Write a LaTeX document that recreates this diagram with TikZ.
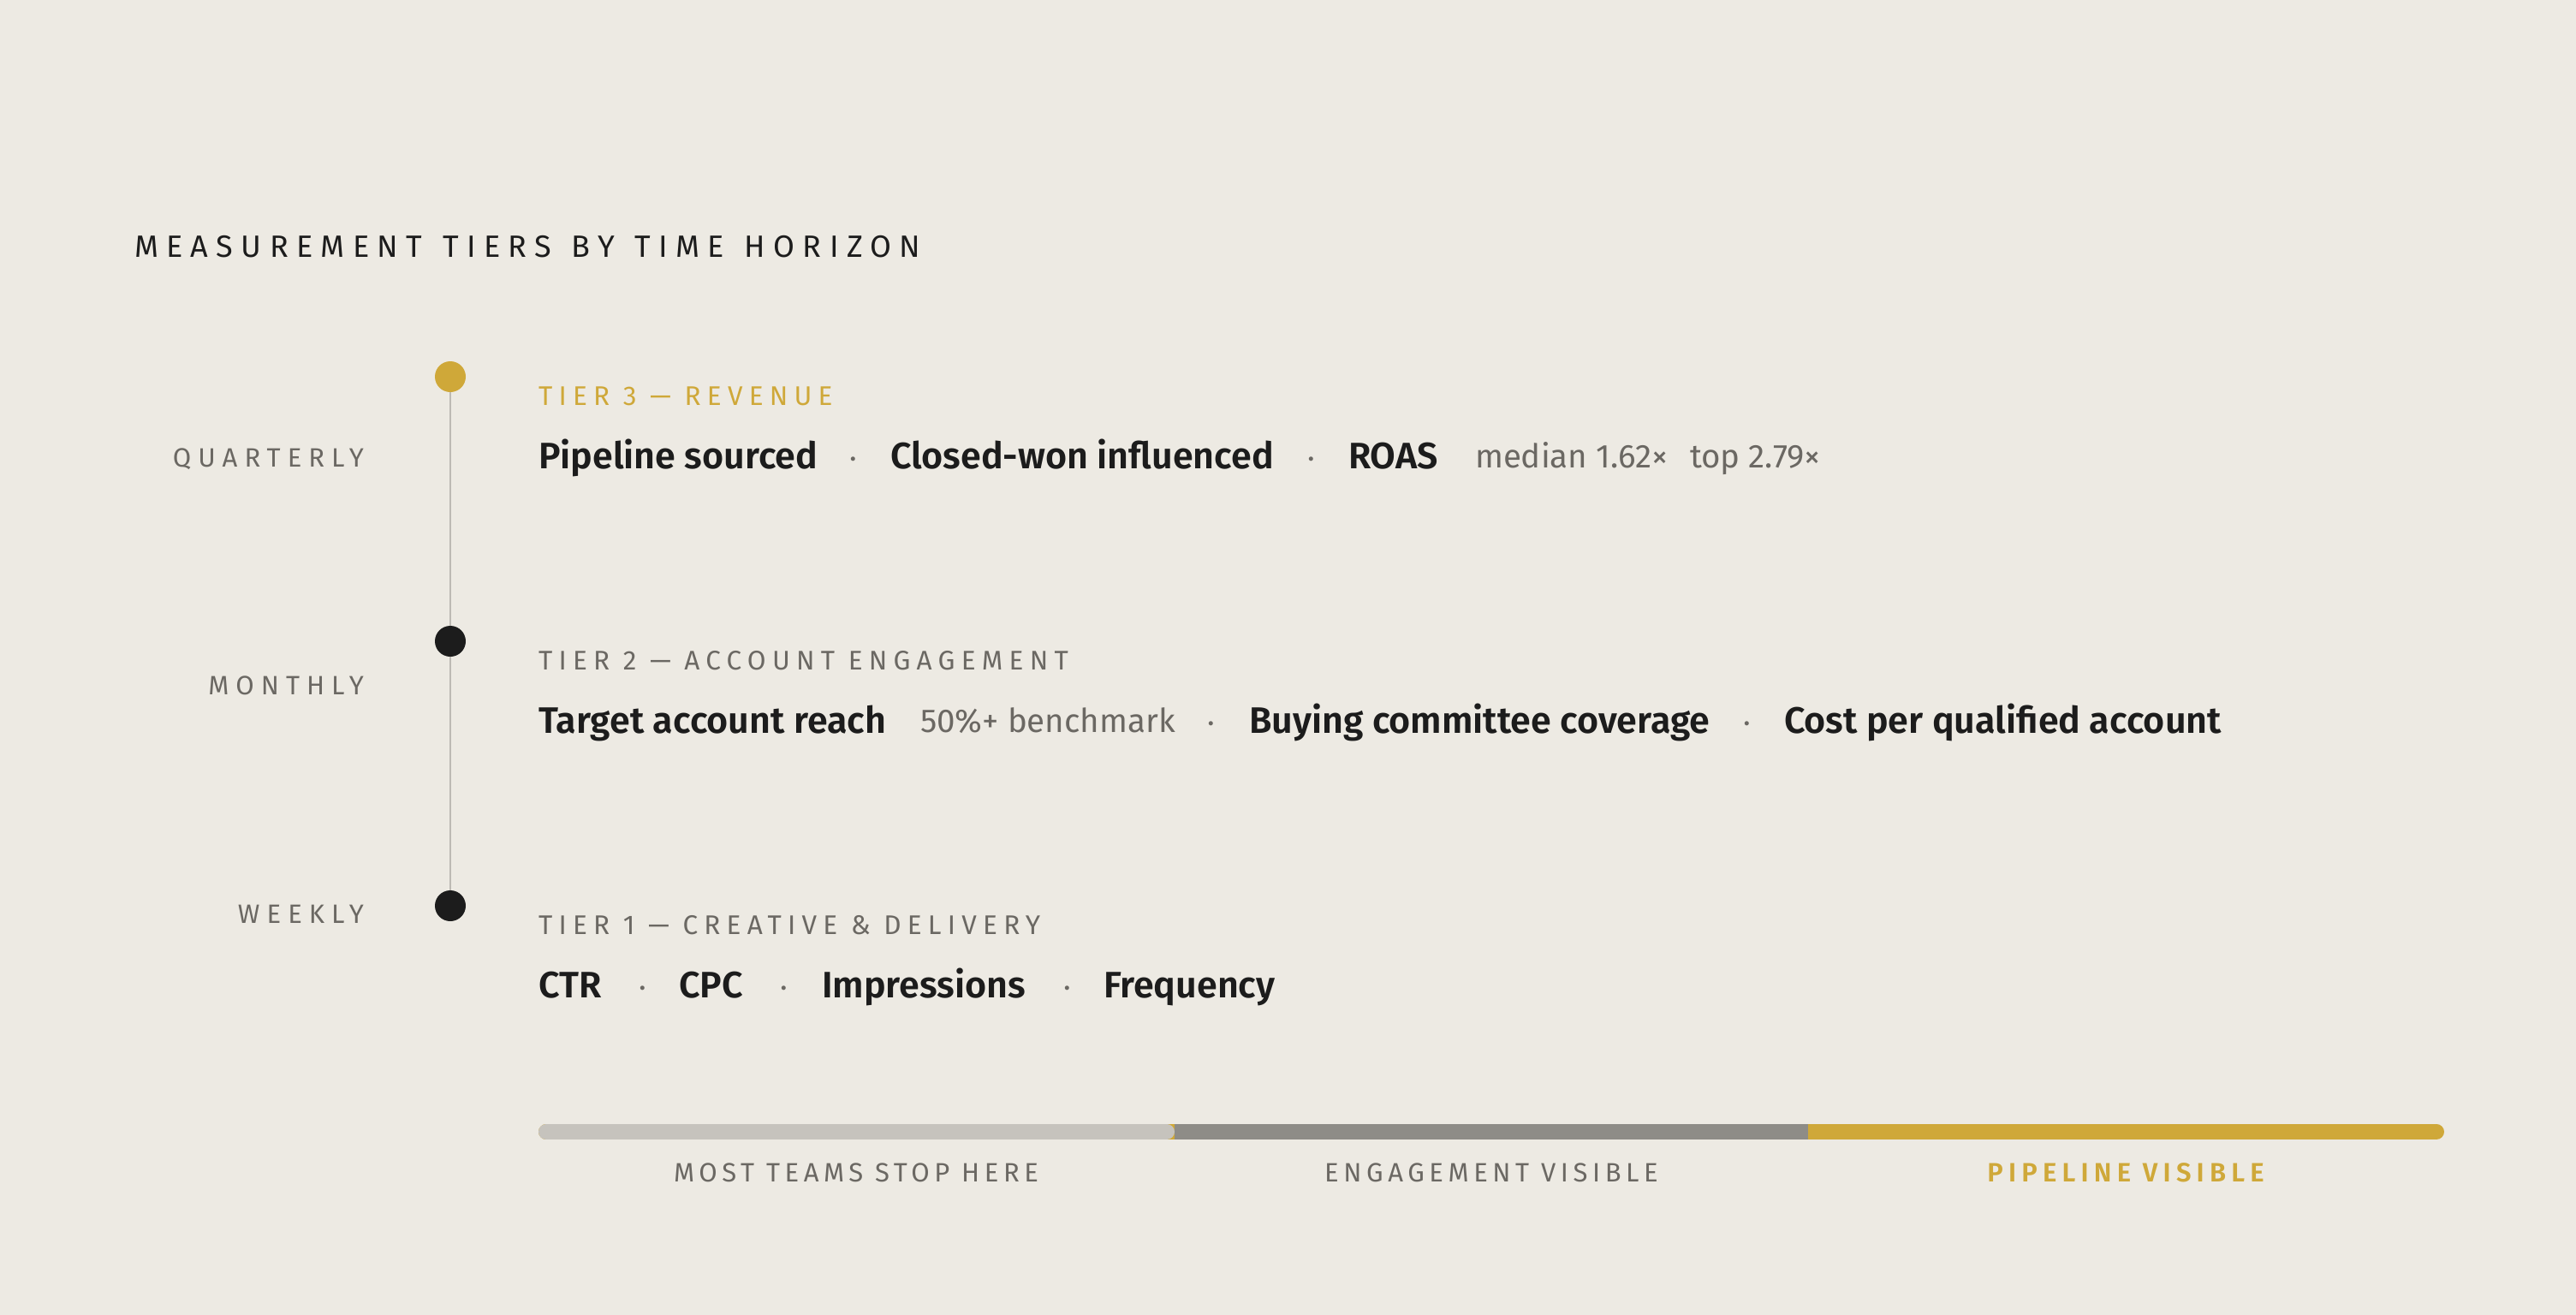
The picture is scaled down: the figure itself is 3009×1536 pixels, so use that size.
\documentclass[tikz,border=0pt]{standalone}
\usepackage{fontspec}
\setmainfont{Fira Sans}
\newfontfamily\sbfont{Fira Sans SemiBold}
\newfontfamily\trackfont{Fira Sans}[LetterSpace=27]
\newfontfamily\titlefont{Fira Sans}[LetterSpace=26,WordSpace=1.25]
\newfontfamily\tracksb{Fira Sans SemiBold}[LetterSpace=20]
\definecolor{bg}{HTML}{EDEAE3}
\definecolor{ink}{HTML}{1C1C1C}
\definecolor{mute}{HTML}{6B6863}
\definecolor{gold}{HTML}{CFA839}
\definecolor{rule}{HTML}{BDBAB4}
\definecolor{barlight}{HTML}{C6C3BD}
\definecolor{barmid}{HTML}{8E8C87}
\tikzset{
  txt/.style={inner sep=0pt, outer sep=0pt},
  titletxt/.style={txt, anchor=base west, text=ink, font=\titlefont\fontsize{36}{40}\selectfont},
  period/.style={txt, anchor=base east, text=mute, font=\trackfont\addfontfeature{LetterSpace=26}\fontsize{31}{36}\selectfont},
  tierhead/.style={txt, anchor=base west, font=\trackfont\addfontfeature{LetterSpace=23}\fontsize{31.5}{36}\selectfont},
  metric/.style={txt, anchor=base west, text=ink, font=\sbfont\fontsize{43}{48}\selectfont},
  note/.style={txt, anchor=base west, text=mute, font=\fontsize{38.5}{42}\selectfont},
  sep/.style={txt, anchor=base, text=mute, font=\fontsize{36}{40}\selectfont},
  dotnode/.style={circle, inner sep=0pt, minimum size=36pt},
  barlabel/.style={txt, anchor=base, text=mute, font=\trackfont\addfontfeature{LetterSpace=18}\fontsize{31}{36}\selectfont},
}
\begin{document}
\begin{tikzpicture}[x=1pt,y=-1pt]
\fill[bg] (0,0) rectangle (3009,1536);
\useasboundingbox (0,0) rectangle (3009,1536);

\node[titletxt] (title) at (157,300) {MEASUREMENT TIERS BY TIME HORIZON};

% timeline
\node[dotnode, fill=gold] (c3) at (526,440) {};
\node[dotnode, fill=ink] (c2) at (526,749) {};
\node[dotnode, fill=ink] (c1) at (526,1058) {};
\draw[rule, line width=2.5pt] (c3.south) -- (c2.north);
\draw[rule, line width=2.5pt] (c2.south) -- (c1.north);

% period labels
\node[period] (q) at (425,545) {QUARTERLY};
\node[period] (m) at (425,811) {MONTHLY};
\node[period] (w) at (425,1078) {WEEKLY};

% tier 3
\node[tierhead, text=gold] (h3) at (629,473) {TIER 3 — REVENUE};
\node[metric] (t3a) at (629,547) {Pipeline sourced};
\node[sep] (s3a) at (997,547) {·};
\node[metric] (t3b) at (1040,547) {Closed-won influenced};
\node[sep] (s3b) at (1532,547) {·};
\node[metric] (t3c) at (1575,547) {ROAS};
\node[note] (n3a) at (1723,546) {median 1.62×};
\node[note] (n3b) at (1974,546) {top 2.79×};

% tier 2
\node[tierhead, text=mute] (h2) at (629,782) {TIER 2 — ACCOUNT ENGAGEMENT};
\node[metric] (t2a) at (629,856) {Target account reach};
\node[note] (n2a) at (1075,855) {50\%+ benchmark};
\node[sep] (s2a) at (1415,856) {·};
\node[metric] (t2b) at (1459,856) {Buying committee coverage};
\node[sep] (s2b) at (2041,856) {·};
\node[metric] (t2c) at (2084,856) {Cost per qualified account};

% tier 1
\node[tierhead, text=mute] (h1) at (629,1091) {TIER 1 — CREATIVE \& DELIVERY};
\node[metric] (t1a) at (629,1165) {CTR};
\node[sep] (s1a) at (751,1165) {·};
\node[metric] (t1b) at (793,1165) {CPC};
\node[sep] (s1b) at (916,1165) {·};
\node[metric] (t1c) at (960,1165) {Impressions};
\node[sep] (s1c) at (1247,1165) {·};
\node[metric] (t1d) at (1289,1165) {Frequency};

% bottom bar
\draw[gold, line width=18pt, line cap=round] (638,1322) -- (2846,1322);
\draw[barlight, line width=18pt, line cap=round] (638,1322) -- (1363,1322);
\fill[barmid] (1372,1313) rectangle (2112,1331);

\node[barlabel] (b1) at (1000,1380) {MOST TEAMS STOP HERE};
\node[barlabel] (b2) at (1742,1380) {ENGAGEMENT VISIBLE};
\node[barlabel, text=gold, font=\tracksb\fontsize{31}{36}\selectfont] (b3) at (2483,1380) {PIPELINE VISIBLE};
\end{tikzpicture}
\end{document}
